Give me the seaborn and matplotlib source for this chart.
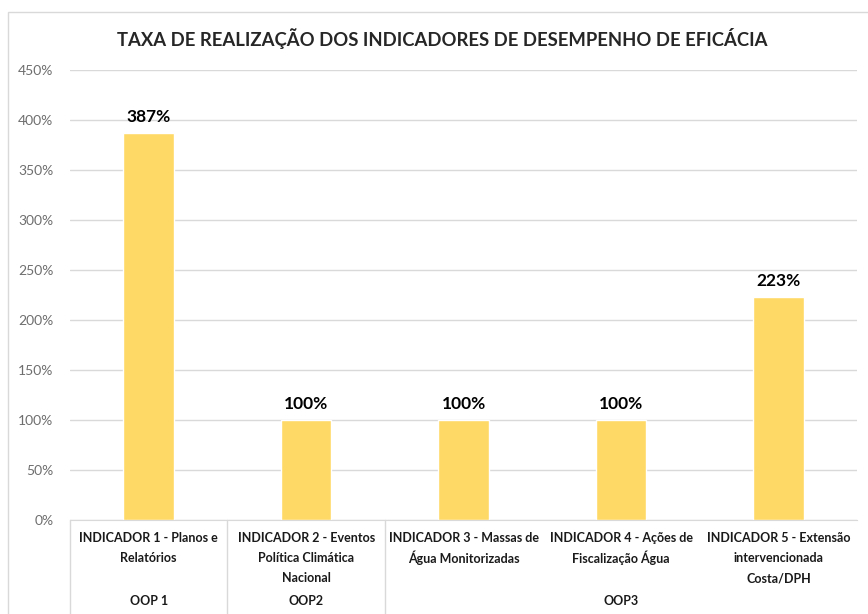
import matplotlib
matplotlib.use("Agg")
import matplotlib.pyplot as plt
import matplotlib.ticker as mticker
from matplotlib.patches import Rectangle
import numpy as np
import pandas as pd
import seaborn as sns

# Data
indicators = [
    "INDICADOR 1 - Planos e\nRelatórios",
    "INDICADOR 2 - Eventos\nPolítica Climática\nNacional",
    "INDICADOR 3 - Massas de\nÁgua Monitorizadas",
    "INDICADOR 4 - Ações de\nFiscalização Água",
    "INDICADOR 5 - Extensão\nintervencionada\nCosta/DPH",
]
rates = [387, 100, 100, 100, 223]
groups = ["OOP 1", "OOP2", "OOP3"]
group_spans = [(0, 0), (1, 1), (2, 4)]
y_ticks = [0, 50, 100, 150, 200, 250, 300, 350, 400, 450]

BAR_COLOR = "#FFD966"
GRID_COLOR = "#D9D9D9"
FONT = ["Lato", "DejaVu Sans"]

sns.set_style("white")
plt.rcParams["font.family"] = FONT

df = pd.DataFrame({"indicador": indicators, "taxa": rates})

fig = plt.figure(figsize=(8.68, 6.14), dpi=100)
ax = fig.add_axes([0.0806, 0.153, 0.907, 0.733])

sns.barplot(data=df, x="indicador", y="taxa", color=BAR_COLOR,
            width=0.32, saturation=1, ax=ax)

ax.set_ylim(0, 450)
ax.set_xlim(-0.5, len(indicators) - 0.5)
ax.set_yticks(y_ticks)
ax.yaxis.set_major_formatter(mticker.FuncFormatter(lambda v, _: f"{v:.0f}%"))
ax.tick_params(axis="y", labelsize=10, labelcolor="#6E6E6E", length=0, pad=12)
ax.set_xticks([])
ax.set_xlabel("")
ax.set_ylabel("")
ax.grid(axis="y", color=GRID_COLOR, linewidth=1)
ax.set_axisbelow(True)
for s in ["top", "right", "left"]:
    ax.spines[s].set_visible(False)
ax.spines["bottom"].set_color(GRID_COLOR)

# value labels
for i, v in enumerate(rates):
    ax.text(i, v + 8, f"{v}%", ha="center", va="bottom",
            fontsize=12.5, fontweight="bold", color="black")

# category labels (inner level), one line at a time for even spacing
trans = ax.get_xaxis_transform()
line_step = 20 / 450
for i, lab in enumerate(indicators):
    for k, line in enumerate(lab.split("\n")):
        ax.text(i, -0.04 - k * line_step, line, ha="center", va="center",
                fontsize=9, fontweight="bold", color="#1A1A1A",
                transform=trans)

# group labels (outer level)
for g, (a, b) in zip(groups, group_spans):
    ax.text((a + b) / 2, -0.18, g, ha="center", va="center", fontsize=9,
            fontweight="bold", color="#1A1A1A", transform=trans)

# separators between groups / categories
for x in [-0.5, 0.5, 1.5]:
    ax.plot([x, x], [0, -0.23], color=GRID_COLOR, linewidth=1,
            transform=trans, clip_on=False)

fig.text(0.51, 0.938,
         "TAXA DE REALIZAÇÃO DOS INDICADORES DE DESEMPENHO DE EFICÁCIA",
         ha="center", va="center", fontsize=13.3, fontweight="bold")

# outer chart border
fig.patches.append(Rectangle((0.009, -0.01), 1.1, 0.99, transform=fig.transFigure,
                             fill=False, edgecolor=GRID_COLOR, linewidth=1))

fig.savefig("out.png", dpi=100)
